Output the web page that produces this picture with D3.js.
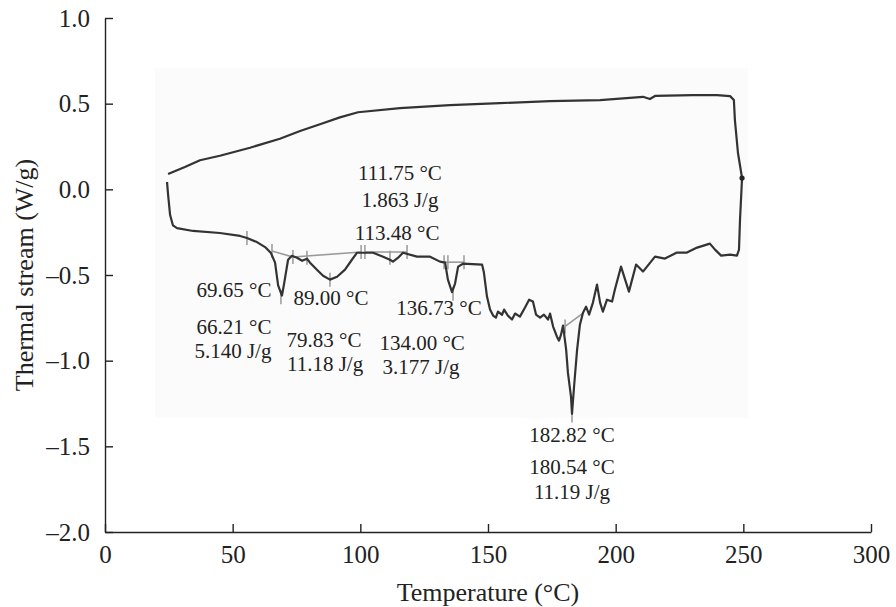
<!DOCTYPE html>
<html>
<head>
<meta charset="utf-8">
<script src="https://cdn.jsdelivr.net/npm/d3@7"></script>
<style>
  body { margin: 0; background: #fff; }
  svg { display: block; }
</style>
</head>
<body>
<svg id="chart" width="896" height="607"></svg>
<script>
// heating run (lower trace), 25 -> 250 °C, then up the right edge
var heatT = [24.3, 24.7, 25.5, 26.6, 28.2, 34.5, 45.0, 52.9, 55.6, 59.5, 62.7, 65.0, 66.6, 67.8, 69.3, 70.1, 71.7, 73.2,
  75.2, 77.2, 79.1, 80.3, 83.0, 85.4, 88.1, 90.9, 94.0, 96.7, 98.7, 101.0, 105.0, 108.9, 111.6, 112.8, 114.8, 116.7,
  122.2, 127.3, 131.2, 133.2, 134.3, 135.9, 137.1, 138.3, 140.2, 147.7, 148.4, 149.6, 150.8, 152.0, 153.1, 153.9,
  155.5, 156.3, 157.8, 159.4, 160.6, 162.5, 164.5, 166.1, 167.6, 168.8, 170.4, 171.9, 173.5, 174.3, 175.5, 177.0,
  177.8, 178.6, 179.4, 180.6, 181.3, 182.5, 182.9, 183.7, 184.9, 186.0, 187.2, 188.4, 189.6, 191.1, 192.7, 193.9,
  195.0, 196.6, 198.6, 199.7, 202.1, 203.7, 205.2, 208.0, 210.7, 215.4, 219.3, 224.0, 227.9, 231.9, 236.9, 238.9,
  241.3, 244.8, 247.5, 248.3, 248.7, 249.5];
var heatV = [0.043, -0.03, -0.15, -0.21, -0.226, -0.243, -0.255, -0.272, -0.284, -0.308, -0.337, -0.372, -0.428, -0.560,
  -0.620, -0.555, -0.411, -0.388, -0.399, -0.417, -0.405, -0.428, -0.469, -0.504, -0.527, -0.510, -0.469, -0.411,
  -0.370, -0.370, -0.370, -0.393, -0.411, -0.422, -0.399, -0.370, -0.393, -0.393, -0.422, -0.428, -0.527, -0.600,
  -0.550, -0.451, -0.434, -0.440, -0.486, -0.626, -0.702, -0.737, -0.749, -0.714, -0.732, -0.702, -0.737, -0.760,
  -0.725, -0.743, -0.690, -0.644, -0.655, -0.731, -0.749, -0.731, -0.760, -0.725, -0.801, -0.860, -0.883, -0.848,
  -0.795, -0.935, -1.070, -1.210, -1.310, -1.152, -0.935, -0.790, -0.720, -0.685, -0.731, -0.661, -0.556, -0.661,
  -0.714, -0.644, -0.655, -0.585, -0.451, -0.527, -0.597, -0.439, -0.480, -0.393, -0.404, -0.369, -0.369, -0.340,
  -0.317, -0.352, -0.387, -0.381, -0.387, -0.352, -0.177, 0.066];

// cooling run (upper trace), 250 -> 25 °C
var coolT = [249.5, 247.9, 246.7, 246.3, 244.8, 239.7, 230.3, 215.4, 213.4, 210.7, 193.9, 174.3, 154.7, 135.1, 115.5,
  99.1, 92.0, 84.2, 76.4, 68.5, 56.8, 45.0, 37.2, 31.3, 24.7];
var coolV = [0.066, 0.212, 0.404, 0.521, 0.544, 0.550, 0.550, 0.545, 0.527, 0.540, 0.521, 0.515, 0.503, 0.491, 0.474,
  0.450, 0.420, 0.380, 0.340, 0.295, 0.243, 0.196, 0.170, 0.130, 0.089];

// integration baselines [T1, V1, T2, V2]
var baselines = [
  [65.4, -0.36, 73.6, -0.395],
  [73.6, -0.395, 100.3, -0.366],
  [101.8, -0.366, 118.3, -0.366],
  [132.8, -0.425, 140.6, -0.425],
  [180.2, -0.80, 187.5, -0.72]
];
// small limit / peak markers
var markT = [55.6, 65.4, 68.9, 73.6, 79.1, 88.1, 100.3, 101.8, 111.6, 118.3, 132.8, 134.3, 140.6, 136.3, 180.2, 182.9];
var markV = [-0.284, -0.36, -0.63, -0.395, -0.40, -0.527, -0.366, -0.366, -0.40, -0.366, -0.425, -0.425, -0.425, -0.61, -0.80, -1.32];

// annotations
var labelText = ['111.75 °C', '1.863 J/g', '113.48 °C', '69.65 °C', '89.00 °C', '136.73 °C', '66.21 °C', '5.140 J/g',
  '79.83 °C', '11.18 J/g', '134.00 °C', '3.177 J/g', '182.82 °C', '180.54 °C', '11.19 J/g'];
var labelT = [115.5, 115.5, 114.4, 50.5, 88.5, 130.8, 50.5, 50.1, 85.8, 86.2, 124.2, 123.8, 182.9, 182.9, 182.9];
var labelV = [0.095, -0.06, -0.25, -0.588, -0.634, -0.693, -0.80, -0.94, -0.88, -1.02, -0.897, -1.037, -1.429, -1.62, -1.767];

var xTicks = [0, 50, 100, 150, 200, 250, 300];
var yTicks = [-2.0, -1.5, -1.0, -0.5, 0.0, 0.5, 1.0];

var svg = d3.select('#chart');
var serif = '"Liberation Serif", "Times New Roman", serif';

var x = d3.scaleLinear().domain([0, 300]).range([105, 871]);
var y = d3.scaleLinear().domain([-2, 1]).range([532, 18]);

// faint scan background behind the trace
svg.append('rect')
  .attr('x', 155).attr('y', 68).attr('width', 593).attr('height', 350)
  .attr('fill', '#fbfbfb');

var fmtY = function (d) { return (d < 0 ? '\u2013' : '') + Math.abs(d).toFixed(1); };

var gx = svg.append('g')
  .attr('transform', 'translate(0,532)')
  .call(d3.axisBottom(x).tickValues(xTicks).tickSizeInner(-8).tickSizeOuter(0).tickPadding(13));
var gy = svg.append('g')
  .attr('transform', 'translate(105,0)')
  .call(d3.axisLeft(y).tickValues(yTicks).tickFormat(fmtY).tickSizeInner(-8).tickSizeOuter(0).tickPadding(15));

[gx, gy].forEach(function (g) {
  g.selectAll('path, line').attr('stroke', '#222').attr('stroke-width', 1.4);
  g.selectAll('text').attr('font-family', serif).attr('font-size', 25).attr('fill', '#222');
});

svg.append('text')
  .attr('x', 488).attr('y', 601)
  .attr('text-anchor', 'middle')
  .attr('font-family', serif).attr('font-size', 26).attr('fill', '#222')
  .text('Temperature (°C)');
svg.append('text')
  .attr('transform', 'translate(33,275) rotate(-90)')
  .attr('text-anchor', 'middle')
  .attr('font-family', serif).attr('font-size', 26).attr('fill', '#222')
  .text('Thermal stream (W/g)');

// baselines and markers (grey)
svg.append('g').selectAll('line').data(baselines).join('line')
  .attr('x1', function (d) { return x(d[0]); })
  .attr('y1', function (d) { return y(d[1]); })
  .attr('x2', function (d) { return x(d[2]); })
  .attr('y2', function (d) { return y(d[3]); })
  .attr('stroke', '#999').attr('stroke-width', 1.6);

svg.append('g').selectAll('line').data(markT).join('line')
  .attr('x1', function (d) { return x(d); })
  .attr('x2', function (d) { return x(d); })
  .attr('y1', function (d, i) { return y(markV[i]) - 7; })
  .attr('y2', function (d, i) { return y(markV[i]) + 7; })
  .attr('stroke', '#999').attr('stroke-width', 1.5);

// DSC trace
var heat = heatT.map(function (t, i) { return [t, heatV[i]]; });
var cool = coolT.map(function (t, i) { return [t, coolV[i]]; });
var line = d3.line()
  .x(function (d) { return x(d[0]); })
  .y(function (d) { return y(d[1]); });

svg.append('path').datum(heat)
  .attr('d', line).attr('fill', 'none')
  .attr('stroke', '#333').attr('stroke-width', 2.2).attr('stroke-linejoin', 'round');
svg.append('path').datum(cool)
  .attr('d', line).attr('fill', 'none')
  .attr('stroke', '#333').attr('stroke-width', 2.2).attr('stroke-linejoin', 'round');

svg.append('circle')
  .attr('cx', x(heatT[heatT.length - 1])).attr('cy', y(heatV[heatV.length - 1]))
  .attr('r', 2.6).attr('fill', '#222');

// peak labels
svg.append('g').selectAll('text').data(labelText).join('text')
  .attr('x', function (d, i) { return x(labelT[i]); })
  .attr('y', function (d, i) { return y(labelV[i]); })
  .attr('dy', '0.35em')
  .attr('text-anchor', 'middle')
  .attr('font-family', serif).attr('font-size', 21).attr('fill', '#222')
  .text(function (d) { return d; });
</script>
</body>
</html>
